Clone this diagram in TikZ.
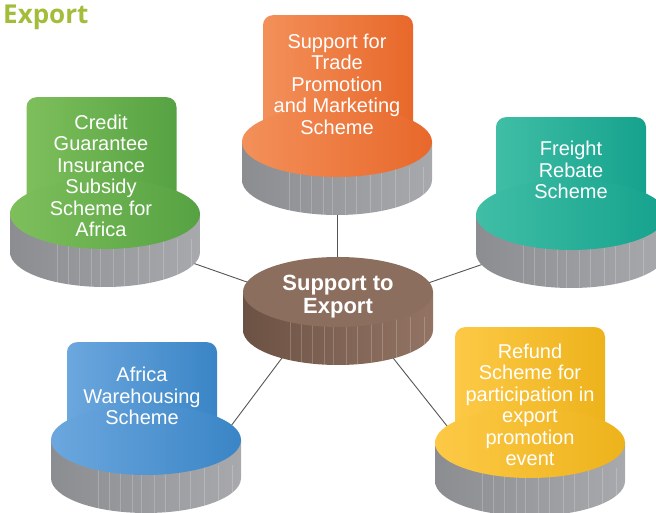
\documentclass[tikz,border=0pt]{standalone}
\usepackage{fontspec}
\setmainfont{Liberation Sans}
\newfontfamily\titlefont{Open Sans}
\usetikzlibrary{shapes.geometric}
\definecolor{titlegreen}{HTML}{A3BD3A}
\definecolor{orL}{HTML}{F3905A}\definecolor{orR}{HTML}{E8682A}
\definecolor{grL}{HTML}{7EBF5C}\definecolor{grR}{HTML}{56A242}
\definecolor{teL}{HTML}{40BEA6}\definecolor{teR}{HTML}{15A28D}
\definecolor{blL}{HTML}{6CA7DE}\definecolor{blR}{HTML}{3A85C6}
\definecolor{yeL}{HTML}{FDC946}\definecolor{yeR}{HTML}{EDB31C}
\definecolor{brTop}{HTML}{8B6E5E}
\definecolor{brL}{HTML}{6C5244}\definecolor{brR}{HTML}{937464}
\definecolor{gyL}{HTML}{8C8D91}\definecolor{gyM}{HTML}{BBBCC0}\definecolor{gyR}{HTML}{A8A9AD}
\definecolor{linkc}{HTML}{555555}
\tikzset{
  link/.style={draw=linkc, line width=0.9pt},
  graySide/.style={left color=gyL, middle color=gyM, right color=gyR},
  brownSide/.style={left color=brL, right color=brR},
  toptab/.style={rectangle, rounded corners=10pt, minimum width=150pt, inner sep=0pt, anchor=north},
  topell/.style={ellipse, minimum width=190pt, minimum height=70pt, inner sep=0pt},
  label/.style={text=white, align=center, font=\fontsize{20}{21.5}\selectfont, inner sep=0pt},
}
% #1 cx, #2 cy, #3 side style
\newcommand\cylside[3]{%
  \path[#3] (#1-95,#2) -- (#1-95,#2-38) arc[start angle=180,end angle=360,x radius=95,y radius=35] -- (#1+95,#2) -- cycle;
  \begin{scope}
    \clip (#1-95,#2) -- (#1-95,#2-38) arc[start angle=180,end angle=360,x radius=95,y radius=35] -- (#1+95,#2) -- cycle;
    \foreach \d in {-48,-37,-26,-14,-5,8,19,33,44,58,72,86}
      \draw[white, opacity=0.2, line width=0.5pt] (#1+\d,#2-80) -- ++(0,55);
  \end{scope}
}
\begin{document}
\begin{tikzpicture}[x=1pt,y=1pt]
\useasboundingbox[fill=white] (0,0) rectangle (656,513);
\node[anchor=base west, font=\titlefont\bfseries\fontsize{26}{26}\selectfont, text=titlegreen, inner sep=0pt] (title) at (3,489) {Export};

% connector hubs and ends
\coordinate (hubA) at (338,199);
\coordinate (hubB) at (336,227);
\coordinate (grEnd) at (150,265);
\coordinate (teEnd) at (530,265);
\coordinate (blEnd) at (213,63);
\coordinate (yeEnd) at (474,53);
\coordinate (orEnd) at (337,371);
\coordinate (orHub) at (337,223);
\draw[link] (orHub) -- (orEnd);
\draw[link] (hubA) -- (grEnd);
\draw[link] (hubA) -- (teEnd);
\draw[link] (hubB) -- (blEnd);
\draw[link] (hubB) -- (yeEnd);

% orange
\node[toptab, minimum height=127pt, left color=orL, right color=orR] (orTab) at (338,498) {};
\cylside{337}{371}{graySide}
\node[topell, left color=orL, right color=orR] (orTop) at (337,371) {};
\node[label] (orText) at (337,429) {Support for\\Trade\\Promotion\\and Marketing\\Scheme};

% green
\node[toptab, minimum height=117pt, left color=grL, right color=grR] (grTab) at (101.5,416) {};
\cylside{105}{299}{graySide}
\node[topell, left color=grL, right color=grR] (grTop) at (105,299) {};
\node[label] (grText) at (101,337) {Credit\\Guarantee\\Insurance\\Subsidy\\Scheme for\\Africa};

% teal
\node[toptab, minimum height=98pt, left color=teL, right color=teR] (teTab) at (571,396) {};
\cylside{571}{298}{graySide}
\node[topell, left color=teL, right color=teR] (teTop) at (571,298) {};
\node[label] (teText) at (571,343) {Freight\\Rebate\\Scheme};

% brown centre
\cylside{338}{221}{brownSide}
\node[topell, fill=brTop] (brTop) at (338,221) {};
\node[label, font=\bfseries\fontsize{22}{23}\selectfont] (brText) at (338,216) {Support to\\Export};

% blue
\node[toptab, minimum height=98pt, left color=blL, right color=blR] (blTab) at (142,171) {};
\cylside{146}{73}{graySide}
\node[topell, left color=blL, right color=blR] (blTop) at (146,73) {};
\node[label] (blText) at (142,117) {Africa\\Warehousing\\Scheme};

% yellow
\node[toptab, minimum height=116pt, left color=yeL, right color=yeR] (yeTab) at (530,186) {};
\cylside{530}{70}{graySide}
\node[topell, left color=yeL, right color=yeR] (yeTop) at (530,70) {};
\node[label] (yeText) at (530,108) {Refund\\Scheme for\\participation in\\export\\promotion\\event};
\end{tikzpicture}
\end{document}
